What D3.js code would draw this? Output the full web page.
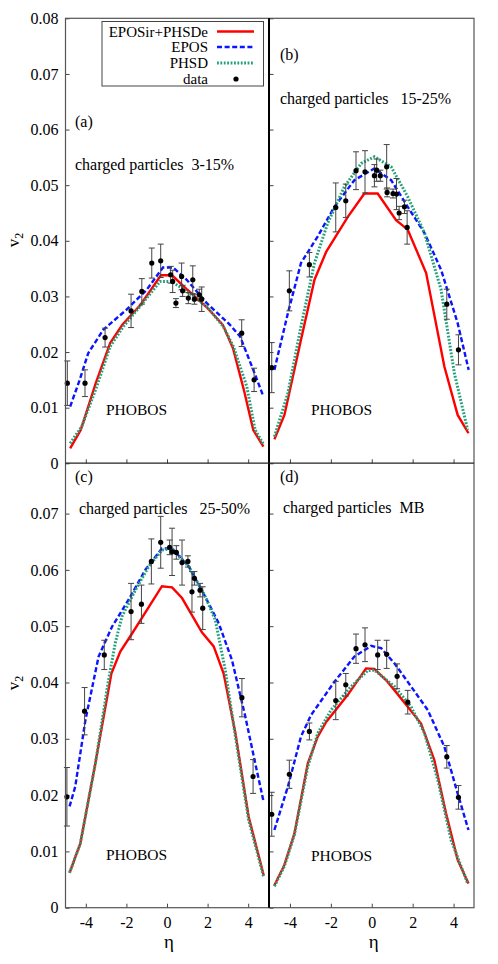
<!DOCTYPE html>
<html>
<head>
<meta charset="utf-8">
<script src="https://cdn.jsdelivr.net/npm/d3@7"></script>
<style>
  body { margin: 0; background: #fff; }
  svg { display: block; }
  svg text { font-family: "Liberation Serif", "Times New Roman", "DejaVu Serif", serif; }
  .tick text { font-size: 16px; fill: #000; }
  .tick line { stroke: #444; }
</style>
</head>
<body>
<svg width="498" height="964"></svg>
<script>
// v2 vs eta, four centrality panels

var panelNames = ["(a)", "(b)", "(c)", "(d)"];
var panelTitles = ["charged particles  3-15%", "charged particles   15-25%",
                   "charged particles   25-50%", "charged particles  MB"];
var yTicksTop = [0, 0.01, 0.02, 0.03, 0.04, 0.05, 0.06, 0.07, 0.08];
var yTicksBottom = [0, 0.01, 0.02, 0.03, 0.04, 0.05, 0.06, 0.07];
var xTicks = [-4, -2, 0, 2, 4];
var seriesNames = ["EPOSir+PHSDe", "EPOS", "PHSD", "data"];

// curves: [eta, v2]
var redA = [[-4.77,0.0027],[-4.25,0.006],[-3.5,0.0145],[-2.8,0.0216],[-2.2,0.0249],[-1.3,0.0285],[-0.3,0.0338],[0.25,0.0338],[1.0,0.0312],[2.0,0.0279],[2.75,0.0249],[3.25,0.0207],[3.8,0.013],[4.25,0.006],[4.75,0.003]];
var blueA = [[-4.77,0.0102],[-4.3,0.015],[-3.88,0.0198],[-3.14,0.024],[-2.0,0.0276],[-1.0,0.0312],[-0.2,0.0352],[0.3,0.0352],[0.97,0.033],[1.96,0.0288],[3.1,0.0249],[3.6,0.0228],[4.25,0.0168],[4.75,0.012]];
var greenA = [[-4.77,0.0036],[-4.2,0.0066],[-3.46,0.0138],[-2.8,0.021],[-2.15,0.0246],[-1.33,0.0282],[-0.34,0.0327],[0.23,0.0327],[0.97,0.0309],[1.96,0.0282],[2.77,0.0246],[3.27,0.021],[3.93,0.0138],[4.34,0.006],[4.77,0.0033]];

var redB = [[-4.76,0.0043],[-4.27,0.0087],[-3.46,0.0222],[-2.8,0.033],[-2.23,0.038],[-1.17,0.0443],[-0.36,0.0485],[0.29,0.0485],[1.19,0.0437],[1.76,0.042],[2.66,0.0342],[3.55,0.0174],[4.2,0.0087],[4.73,0.0054]];
var blueB = [[-4.76,0.0168],[-4.1,0.027],[-3.46,0.036],[-2.64,0.0408],[-1.83,0.0461],[-0.85,0.0509],[0.13,0.053],[0.95,0.0509],[1.76,0.0461],[2.58,0.0414],[3.39,0.0348],[4.2,0.0252],[4.74,0.0168]];
var greenB = [[-4.76,0.0048],[-4.1,0.0126],[-3.46,0.0246],[-2.8,0.036],[-2.15,0.0432],[-1.34,0.0497],[-0.52,0.0539],[0.13,0.0551],[0.95,0.0533],[1.76,0.0479],[2.58,0.0414],[3.39,0.0312],[4.04,0.0162],[4.69,0.006]];

var redC = [[-4.8,0.0062],[-4.27,0.0114],[-3.53,0.0256],[-2.74,0.0416],[-2.3,0.0455],[-1.72,0.0487],[-0.25,0.0571],[0.25,0.0569],[0.74,0.055],[1.72,0.0489],[2.3,0.0464],[2.79,0.0416],[3.37,0.031],[4.02,0.0162],[4.76,0.0058]];
var blueC = [[-4.8,0.018],[-4.52,0.0215],[-4.02,0.0333],[-3.37,0.0446],[-2.71,0.0499],[-1.89,0.0547],[-1.07,0.06],[-0.25,0.0638],[0.25,0.0638],[1.07,0.0606],[1.89,0.0552],[2.55,0.0505],[3.2,0.044],[3.86,0.0339],[4.35,0.0256],[4.76,0.0188]];
var greenC = [[-4.8,0.0062],[-4.27,0.0114],[-3.53,0.0256],[-2.9,0.04],[-2.55,0.047],[-2.22,0.0517],[-1.56,0.0564],[-0.9,0.0606],[-0.25,0.0635],[0.25,0.0638],[1.07,0.0606],[1.89,0.0552],[2.38,0.0511],[2.87,0.0422],[3.37,0.0304],[4.02,0.0156],[4.76,0.0055]];

var redD = [[-4.76,0.004],[-4.27,0.0076],[-3.78,0.0132],[-3.13,0.0256],[-2.64,0.0304],[-2.23,0.033],[-1.17,0.0378],[-0.28,0.0425],[0.13,0.0424],[0.78,0.0401],[1.76,0.0357],[2.41,0.0327],[3.06,0.0262],[3.63,0.0168],[4.2,0.0085],[4.73,0.0043]];
var blueD = [[-4.76,0.0138],[-4.1,0.0215],[-3.46,0.0304],[-2.97,0.0342],[-1.83,0.0401],[-0.85,0.0446],[-0.03,0.0465],[0.46,0.0461],[1.11,0.0434],[1.92,0.0393],[2.74,0.0351],[3.55,0.0286],[4.2,0.0203],[4.73,0.0138]];
var greenD = [[-4.76,0.0038],[-4.27,0.0074],[-3.78,0.013],[-3.13,0.025],[-2.64,0.031],[-1.99,0.0351],[-1.01,0.0393],[-0.2,0.0421],[0.13,0.0422],[1.11,0.0393],[1.92,0.0357],[2.58,0.031],[3.23,0.0227],[3.88,0.012],[4.69,0.0043]];

// PHOBOS data: [eta, v2, error]
var dataA = [[-4.91,0.0144,0.004],[-4.04,0.0144,0.0024],[-3.05,0.0226,0.0017],[-1.77,0.0274,0.003],[-1.24,0.0309,0.0023],[-0.75,0.036,0.0027],[-0.31,0.0364,0.003],[0.18,0.0339,0.0015],[0.28,0.0327,0.002],[0.44,0.0288,0.0008],[0.72,0.0336,0.0024],[0.77,0.031,0.001],[1.05,0.0297,0.001],[1.27,0.033,0.0025],[1.35,0.0295,0.0009],[1.59,0.0303,0.001],[1.71,0.0295,0.0022],[3.68,0.0234,0.0024],[4.29,0.015,0.0021]];
var dataB = [[-4.89,0.0172,0.0045],[-4.03,0.031,0.0036],[-3.05,0.0357,0.0022],[-1.76,0.046,0.0044],[-1.27,0.0472,0.003],[-0.77,0.0526,0.0034],[-0.33,0.0524,0.0038],[0.13,0.0517,0.002],[0.24,0.0527,0.002],[0.42,0.0517,0.001],[0.73,0.0533,0.004],[0.75,0.0487,0.0008],[1.04,0.0485,0.0008],[1.21,0.0484,0.0028],[1.34,0.045,0.0012],[1.6,0.0461,0.0012],[1.73,0.0424,0.003],[3.67,0.0286,0.0027],[4.24,0.0204,0.0027]];
var dataC = [[-4.93,0.0197,0.0052],[-4.06,0.0349,0.0042],[-3.09,0.0449,0.0026],[-1.77,0.0526,0.005],[-1.26,0.0539,0.0034],[-0.77,0.0615,0.004],[-0.31,0.0649,0.0046],[0.13,0.064,0.0013],[0.25,0.0632,0.0042],[0.46,0.0631,0.0012],[0.74,0.0613,0.004],[1.03,0.0615,0.001],[1.23,0.0561,0.0036],[1.35,0.0585,0.0012],[1.63,0.0564,0.0012],[1.76,0.0532,0.0038],[3.69,0.0373,0.0034],[4.24,0.0233,0.003]];
var dataD = [[-4.89,0.0166,0.0039],[-4.03,0.0237,0.0025],[-3.05,0.0313,0.0015],[-1.76,0.0368,0.0034],[-1.27,0.0396,0.002],[-0.77,0.046,0.0026],[-0.33,0.0467,0.003],[0.29,0.0449,0.0026],[0.73,0.045,0.0025],[1.24,0.0411,0.0022],[1.76,0.0365,0.0021],[3.67,0.0268,0.002],[4.24,0.0196,0.0021]];

var redColor = "#ff0000", blueColor = "#0a14ff", greenColor = "#22a078";

var svg = d3.select("svg");

var xLeft = d3.scaleLinear().domain([-5, 5]).range([65.5, 268.5]);
var xRight = d3.scaleLinear().domain([-5, 5]).range([269.5, 474]);
var yTop = d3.scaleLinear().domain([0, 0.08]).range([463.3, 18.3]);
var yBottom = d3.scaleLinear().domain([0, 0.079]).range([907.7, 462.9]);

var panels = [
  {x: xLeft, y: yTop, yt: yTicksTop, red: redA, blue: blueA, green: greenA, data: dataA, left: true, bottom: false, nameXY: [75, 127], titleXY: [75, 170], phobosXY: [106, 415]},
  {x: xRight, y: yTop, yt: yTicksTop, red: redB, blue: blueB, green: greenB, data: dataB, left: false, bottom: false, nameXY: [280, 60], titleXY: [280, 104], phobosXY: [311, 415]},
  {x: xLeft, y: yBottom, yt: yTicksBottom, red: redC, blue: blueC, green: greenC, data: dataC, left: true, bottom: true, nameXY: [75, 482], titleXY: [79, 514], phobosXY: [106, 860]},
  {x: xRight, y: yBottom, yt: yTicksBottom, red: redD, blue: blueD, green: greenD, data: dataD, left: false, bottom: true, nameXY: [280, 482], titleXY: [283, 513], phobosXY: [311, 861]}
];

var fmtY = function (d) { return d === 0 ? "0" : d.toFixed(2); };

panels.forEach(function (p, i) {
  var x = p.x, y = p.y;
  var x0 = x.range()[0], x1 = x.range()[1];

  // y axis (ticks pointing inward)
  svg.append("g")
    .attr("transform", "translate(" + x0 + ",0)")
    .call(d3.axisLeft(y).tickValues(p.yt).tickSizeInner(-4).tickSizeOuter(0).tickPadding(7)
      .tickFormat(p.left ? fmtY : ""))
    .attr("font-family", null).attr("font-size", null)
    .call(function (g) { g.select(".domain").remove(); });

  // x axis
  svg.append("g")
    .attr("transform", "translate(0," + y.range()[0] + ")")
    .call(d3.axisBottom(x).tickValues(xTicks).tickSizeInner(-4).tickSizeOuter(0).tickPadding(9)
      .tickFormat(p.bottom ? function (d) { return String(d); } : ""))
    .attr("font-family", null).attr("font-size", null)
    .call(function (g) { g.select(".domain").remove(); });

  var line = d3.line()
    .x(function (d) { return x(d[0]); })
    .y(function (d) { return y(d[1]); });

  svg.append("path").datum(p.red)
    .attr("d", line).attr("fill", "none")
    .attr("stroke", redColor).attr("stroke-width", 2.4);
  svg.append("path").datum(p.blue)
    .attr("d", line).attr("fill", "none")
    .attr("stroke", blueColor).attr("stroke-width", 2.4)
    .attr("stroke-dasharray", "5,2.6");
  svg.append("path").datum(p.green)
    .attr("d", line).attr("fill", "none")
    .attr("stroke", greenColor).attr("stroke-width", 3)
    .attr("stroke-dasharray", "1.8,1.6");

  // error bars
  var eb = svg.append("g").attr("stroke", "#444").attr("stroke-width", 1);
  eb.selectAll(".eb").data(p.data).enter().append("line")
    .attr("x1", function (d) { return x(d[0]); })
    .attr("x2", function (d) { return x(d[0]); })
    .attr("y1", function (d) { return y(d[1] - d[2]); })
    .attr("y2", function (d) { return y(d[1] + d[2]); });
  eb.selectAll(".capt").data(p.data).enter().append("line")
    .attr("x1", function (d) { return x(d[0]) - 3; })
    .attr("x2", function (d) { return x(d[0]) + 3; })
    .attr("y1", function (d) { return y(d[1] + d[2]); })
    .attr("y2", function (d) { return y(d[1] + d[2]); });
  eb.selectAll(".capb").data(p.data).enter().append("line")
    .attr("x1", function (d) { return x(d[0]) - 3; })
    .attr("x2", function (d) { return x(d[0]) + 3; })
    .attr("y1", function (d) { return y(d[1] - d[2]); })
    .attr("y2", function (d) { return y(d[1] - d[2]); });

  svg.append("g").selectAll("circle").data(p.data).enter().append("circle")
    .attr("cx", function (d) { return x(d[0]); })
    .attr("cy", function (d) { return y(d[1]); })
    .attr("r", 2.6).attr("fill", "#000");

  svg.append("text").attr("x", p.nameXY[0]).attr("y", p.nameXY[1])
    .attr("font-size", 16).text(panelNames[i]);
  svg.append("text").attr("x", p.titleXY[0]).attr("y", p.titleXY[1])
    .attr("font-size", 16).attr("xml:space", "preserve").style("white-space", "pre")
    .text(panelTitles[i]);
  svg.append("text").attr("x", p.phobosXY[0]).attr("y", p.phobosXY[1])
    .attr("font-size", 15.5).text("PHOBOS");

  if (p.bottom) {
    svg.append("text").attr("x", (x0 + x1) / 2 + 2).attr("y", 948)
      .attr("text-anchor", "middle").attr("font-size", 19).text("η");
  }
  if (p.left) {
    var yl = svg.append("text")
      .attr("transform", "translate(19," + (p.bottom ? 683 : 240) + ") rotate(-90)")
      .attr("text-anchor", "middle").attr("font-size", 17);
    yl.append("tspan").text("v");
    yl.append("tspan").attr("font-size", 12).attr("dy", 4).text("2");
  }
});

// frame
svg.append("rect")
  .attr("x", 65.5).attr("y", 18.3).attr("width", 474 - 65.5).attr("height", 907.7 - 18.3)
  .attr("fill", "none").attr("stroke", "#555").attr("stroke-width", 1.2);
svg.append("line").attr("x1", 269).attr("x2", 269).attr("y1", 18.3).attr("y2", 907.7)
  .attr("stroke", "#000").attr("stroke-width", 2);
svg.append("line").attr("x1", 65.5).attr("x2", 474).attr("y1", 463.1).attr("y2", 463.1)
  .attr("stroke", "#222").attr("stroke-width", 1.3);

// legend
var lg = svg.append("g");
lg.append("rect").attr("x", 102).attr("y", 21.5).attr("width", 161.5).attr("height", 64.5)
  .attr("fill", "#fff").attr("stroke", "#444").attr("stroke-width", 1);
var legendY = [31.5, 47, 63, 79];
seriesNames.forEach(function (s, i) {
  lg.append("text").attr("x", 208).attr("y", legendY[i] + 5)
    .attr("text-anchor", "end").attr("font-size", 15).text(s);
});
lg.append("line").attr("x1", 217).attr("x2", 254).attr("y1", legendY[0]).attr("y2", legendY[0])
  .attr("stroke", redColor).attr("stroke-width", 2.4);
lg.append("line").attr("x1", 217).attr("x2", 254).attr("y1", legendY[1]).attr("y2", legendY[1])
  .attr("stroke", blueColor).attr("stroke-width", 2.4).attr("stroke-dasharray", "5,2.6");
lg.append("line").attr("x1", 217).attr("x2", 254).attr("y1", legendY[2]).attr("y2", legendY[2])
  .attr("stroke", greenColor).attr("stroke-width", 3).attr("stroke-dasharray", "1.8,1.6");
lg.append("circle").attr("cx", 236).attr("cy", legendY[3]).attr("r", 2.6).attr("fill", "#000");
</script>
</body>
</html>
